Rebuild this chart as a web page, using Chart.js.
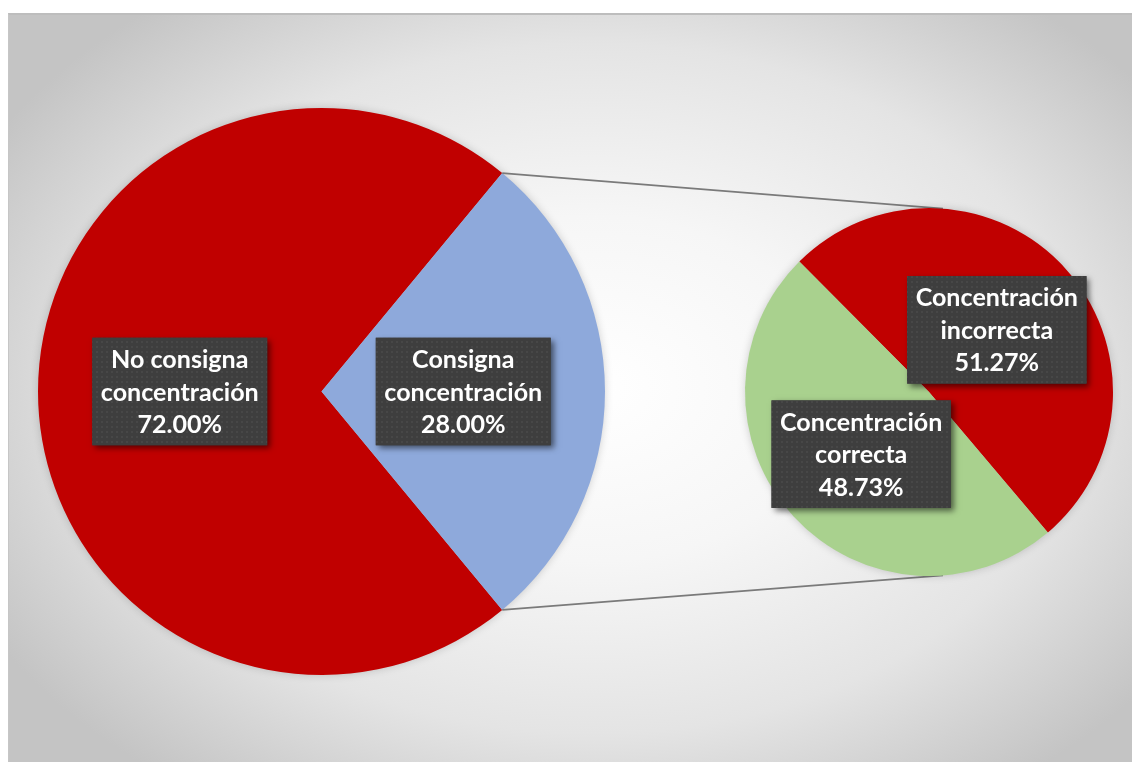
<!DOCTYPE html>
<html><head><meta charset="utf-8">
<script src="https://cdn.jsdelivr.net/npm/chart.js@4.4.1/dist/chart.umd.min.js"></script>
<style>
html,body{margin:0;padding:0;background:#fff;width:1132px;height:762px;overflow:hidden}
#bg{position:absolute;left:8px;top:13px;width:1124px;height:749px;box-sizing:border-box;
 border-top:2px solid #bdbdbd;border-left:1px solid #c6c6c6;
 background:radial-gradient(ellipse 62% 66% at 52% 50%, #ffffff 0%, #f6f6f6 35%, #e4e4e4 70%, #c4c4c4 100%);}
canvas{position:absolute;left:0;top:0}
</style></head><body>
<div id="bg"></div>
<canvas id="c1" width="1132" height="762"></canvas>
<canvas id="c2" width="1132" height="762"></canvas>
<script>
// ---- data ----
const mainCategories = [['No consigna', 'concentración'], ['Consigna', 'concentración']];
const mainValues = [72.00, 28.00];
const mainColors = ['#C00000', '#8EA9DB'];
const subCategories = [['Concentración', 'incorrecta'], ['Concentración', 'correcta']];
const subValues = [51.27, 48.73];
const subColors = ['#C00000', '#A9D18E'];

const FONT_FAMILY = 'Lato, "Open Sans", sans-serif';

// dotted dark pattern for label boxes
function makePattern(ctx) {
  const p = document.createElement('canvas');
  p.width = 5; p.height = 5;
  const pc = p.getContext('2d');
  pc.fillStyle = '#3e3e3e'; pc.fillRect(0, 0, 5, 5);
  pc.fillStyle = '#474747'; pc.fillRect(1, 1, 2, 2);
  return ctx.createPattern(p, 'repeat');
}

function fitFontSize(ctx) {
  let size = 24;
  ctx.font = 'bold ' + size + 'px ' + FONT_FAMILY;
  const w = ctx.measureText('concentración').width;
  return size * 158 / w;
}

const shadowPlugin = {
  id: 'pieShadow',
  beforeDatasetsDraw(chart) {
    const arc = chart.getDatasetMeta(0).data[0];
    if (!arc) return;
    const ctx = chart.ctx;
    ctx.save();
    ctx.shadowColor = 'rgba(0,0,0,0.22)';
    ctx.shadowBlur = 10;
    ctx.fillStyle = '#bbbbbb';
    ctx.beginPath();
    ctx.arc(arc.x, arc.y, arc.outerRadius - 1, 0, Math.PI * 2);
    ctx.fill();
    ctx.restore();
  }
};

function labelPlugin(cats, vals) {
  return {
    id: 'boxLabels',
    afterDatasetsDraw(chart) {
      const ctx = chart.ctx;
      const meta = chart.getDatasetMeta(0);
      const total = vals.reduce((a, b) => a + b, 0);
      const fs = fitFontSize(ctx);
      const lineH = 32.5;
      ctx.save();
      ctx.font = 'bold ' + fs + 'px ' + FONT_FAMILY;
      meta.data.forEach((arc, i) => {
        const lines = cats[i].concat([(vals[i] / total * 100).toFixed(2) + '%']);
        const mid = (arc.startAngle + arc.endAngle) / 2;
        const r = arc.outerRadius * 0.5;
        const cx = arc.x + Math.cos(mid) * r;
        const cy = arc.y + Math.sin(mid) * r;
        const tw = Math.max(...lines.map(l => ctx.measureText(l).width));
        const bw = tw + 17, bh = lineH * lines.length + 10;
        const bx = cx - bw / 2, by = cy - bh / 2;
        ctx.save();
        ctx.shadowColor = 'rgba(0,0,0,0.55)';
        ctx.shadowBlur = 6;
        ctx.shadowOffsetX = 3;
        ctx.shadowOffsetY = 3;
        ctx.fillStyle = '#3e3e3e';
        ctx.fillRect(bx, by, bw, bh);
        ctx.restore();
        ctx.fillStyle = makePattern(ctx);
        ctx.fillRect(bx, by, bw, bh);
        ctx.fillStyle = '#ffffff';
        ctx.textAlign = 'center';
        ctx.textBaseline = 'middle';
        lines.forEach((l, k) => {
          ctx.fillText(l, cx, by + 5 + lineH * (k + 0.5) + 1);
        });
      });
      ctx.restore();
    }
  };
}

const baseOptions = {
  responsive: false,
  animation: false,
  devicePixelRatio: 1,
  events: [],
  plugins: { legend: { display: false }, tooltip: { enabled: false } },
};

const total = mainValues.reduce((a, b) => a + b, 0);
// the "Consigna" slice is centered on the right (3 o'clock)
const mainRotation = 90 + (mainValues[1] / total) * 180;

const chart1 = new Chart(document.getElementById('c1'), {
  type: 'pie',
  data: {
    labels: mainCategories.map(c => c.join(' ')),
    datasets: [{ data: mainValues, backgroundColor: mainColors, borderWidth: 0 }]
  },
  options: Object.assign({}, baseOptions, {
    rotation: mainRotation,
    layout: { padding: { left: 38, top: 108, right: 527, bottom: 87 } }
  }),
  plugins: [shadowPlugin, labelPlugin(mainCategories, mainValues)]
});

const connectorPlugin = {
  id: 'connectors',
  beforeDatasetsDraw(chart) {
    const big = chart1.getDatasetMeta(0).data[1];
    const small = chart.getDatasetMeta(0).data[0];
    if (!big || !small) return;
    const ctx = chart.ctx;
    const R = big.outerRadius, r = small.outerRadius;
    const p1 = [big.x + R * Math.cos(big.startAngle), big.y + R * Math.sin(big.startAngle)];
    const p2 = [big.x + R * Math.cos(big.endAngle), big.y + R * Math.sin(big.endAngle)];
    const off = 0.076;
    const q1 = [small.x + r * Math.cos(-Math.PI / 2 + off), small.y + r * Math.sin(-Math.PI / 2 + off)];
    const q2 = [small.x + r * Math.cos(Math.PI / 2 - off), small.y + r * Math.sin(Math.PI / 2 - off)];
    ctx.save();
    ctx.strokeStyle = '#7a7a7a';
    ctx.lineWidth = 1.8;
    ctx.beginPath();
    ctx.moveTo(p1[0], p1[1]); ctx.lineTo(q1[0], q1[1]);
    ctx.moveTo(p2[0], p2[1]); ctx.lineTo(q2[0], q2[1]);
    ctx.stroke();
    ctx.restore();
  }
};

const chart2 = new Chart(document.getElementById('c2'), {
  type: 'pie',
  data: {
    labels: subCategories.map(c => c.join(' ')),
    datasets: [{ data: subValues, backgroundColor: subColors, borderWidth: 0 }]
  },
  options: Object.assign({}, baseOptions, {
    rotation: -44.8,
    layout: { padding: { left: 745, top: 208, right: 19, bottom: 186 } }
  }),
  plugins: [connectorPlugin, shadowPlugin, labelPlugin(subCategories, subValues)]
});
</script>
</body></html>
